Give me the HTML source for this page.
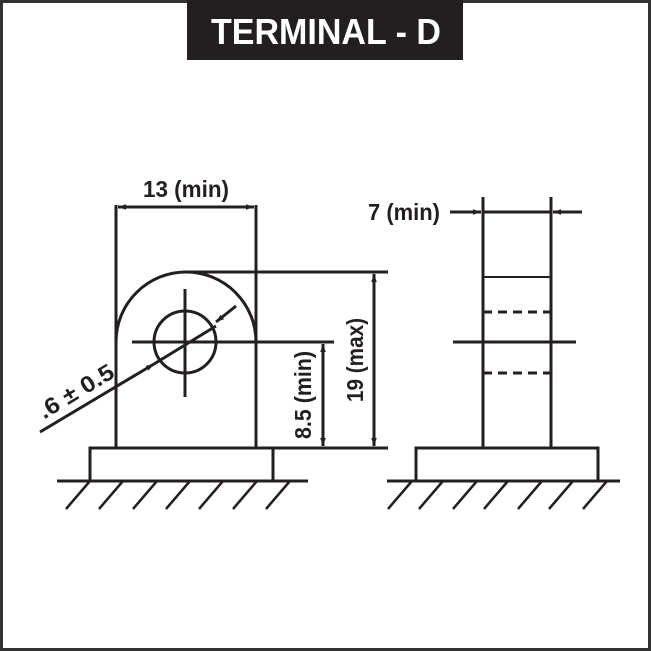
<!DOCTYPE html>
<html><head><style>html,body{margin:0;padding:0;background:#fff}svg{display:block}</style></head>
<body>
<svg width="651" height="651" viewBox="0 0 651 651" xmlns="http://www.w3.org/2000/svg">
<rect x="1.5" y="1.5" width="648" height="648" fill="#fff" stroke="#333" stroke-width="3"/>
<rect x="187" y="0" width="276" height="60" fill="#231f20"/>
<text x="326" y="44" font-family="Liberation Sans, sans-serif" font-weight="bold" font-size="36" fill="#fff" text-anchor="middle" textLength="230" lengthAdjust="spacingAndGlyphs">TERMINAL - D</text>
<defs>
<marker id="a" viewBox="0 0 10 10" refX="10" refY="5" markerWidth="14" markerHeight="8" markerUnits="userSpaceOnUse" orient="auto"><path d="M0,1.5 L10,5 L0,8.5z" fill="#231f20"/></marker>
</defs>
<g stroke="#231f20" stroke-width="3" fill="none">
<line x1="116" y1="205" x2="116" y2="448"/>
<line x1="256" y1="205" x2="256" y2="448"/>
<path d="M116,342 A70,70 0 0 1 256,342"/>
<line x1="183" y1="272" x2="388" y2="272"/>
<circle cx="185" cy="342" r="31"/>
<line x1="185" y1="289" x2="185" y2="397"/>
<line x1="132" y1="342" x2="334" y2="342"/>
<line x1="256" y1="448" x2="388" y2="448"/>
<rect x="90" y="448" width="183" height="33"/>
<line x1="57" y1="481" x2="308" y2="481"/>
<g stroke-width="2.5">
<line x1="90" y1="481" x2="66" y2="509"/><line x1="123" y1="481" x2="99" y2="509"/><line x1="157" y1="481" x2="133" y2="509"/><line x1="190" y1="481" x2="166" y2="509"/><line x1="223" y1="481" x2="199" y2="509"/><line x1="257" y1="481" x2="233" y2="509"/><line x1="290" y1="481" x2="266" y2="509"/>
<line x1="412" y1="481" x2="388" y2="509"/><line x1="443" y1="481" x2="419" y2="509"/><line x1="477" y1="481" x2="453" y2="509"/><line x1="508" y1="481" x2="484" y2="509"/><line x1="542" y1="481" x2="518" y2="509"/><line x1="573" y1="481" x2="549" y2="509"/><line x1="607" y1="481" x2="583" y2="509"/>
</g>
<line x1="186" y1="207" x2="118" y2="207" marker-end="url(#a)"/>
<line x1="186" y1="207" x2="254" y2="207" marker-end="url(#a)"/>
<line x1="323" y1="395" x2="323" y2="344" marker-end="url(#a)"/>
<line x1="323" y1="395" x2="323" y2="446" marker-end="url(#a)"/>
<line x1="374" y1="360" x2="374" y2="274" marker-end="url(#a)"/>
<line x1="374" y1="360" x2="374" y2="446" marker-end="url(#a)"/>
<line x1="40" y1="432" x2="154" y2="364" marker-end="url(#a)"/>
<line x1="154" y1="364" x2="216" y2="326"/>
<line x1="236" y1="306" x2="216" y2="322" marker-end="url(#a)"/>
<line x1="483" y1="197" x2="483" y2="448"/>
<line x1="551" y1="197" x2="551" y2="448"/>
<line x1="450" y1="212" x2="481" y2="212" marker-end="url(#a)"/>
<line x1="483" y1="212" x2="551" y2="212"/>
<line x1="582" y1="212" x2="553" y2="212" marker-end="url(#a)"/>
<line x1="483" y1="277" x2="551" y2="277" stroke-width="2"/>
<line x1="483" y1="312" x2="551" y2="312" stroke-dasharray="9,6"/>
<line x1="453" y1="342" x2="576" y2="342"/>
<line x1="483" y1="373" x2="551" y2="373" stroke-dasharray="9,6"/>
<rect x="416" y="448" width="182" height="33"/>
<line x1="387" y1="481" x2="620" y2="481"/>
</g>
<g font-family="Liberation Sans, sans-serif" font-weight="bold" font-size="23" fill="#231f20">
<text x="186" y="197" text-anchor="middle" textLength="86" lengthAdjust="spacingAndGlyphs">13 (min)</text>
<text x="368" y="220" textLength="72" lengthAdjust="spacingAndGlyphs">7 (min)</text>
<text transform="translate(311,395) rotate(-90)" text-anchor="middle" textLength="88" lengthAdjust="spacingAndGlyphs">8.5 (min)</text>
<text transform="translate(363,360) rotate(-90)" text-anchor="middle" textLength="84" lengthAdjust="spacingAndGlyphs">19 (max)</text>
<text transform="translate(80,398) rotate(-31)" text-anchor="middle" textLength="84" lengthAdjust="spacingAndGlyphs">.6 ± 0.5</text>
</g>
</svg>
</body></html>
